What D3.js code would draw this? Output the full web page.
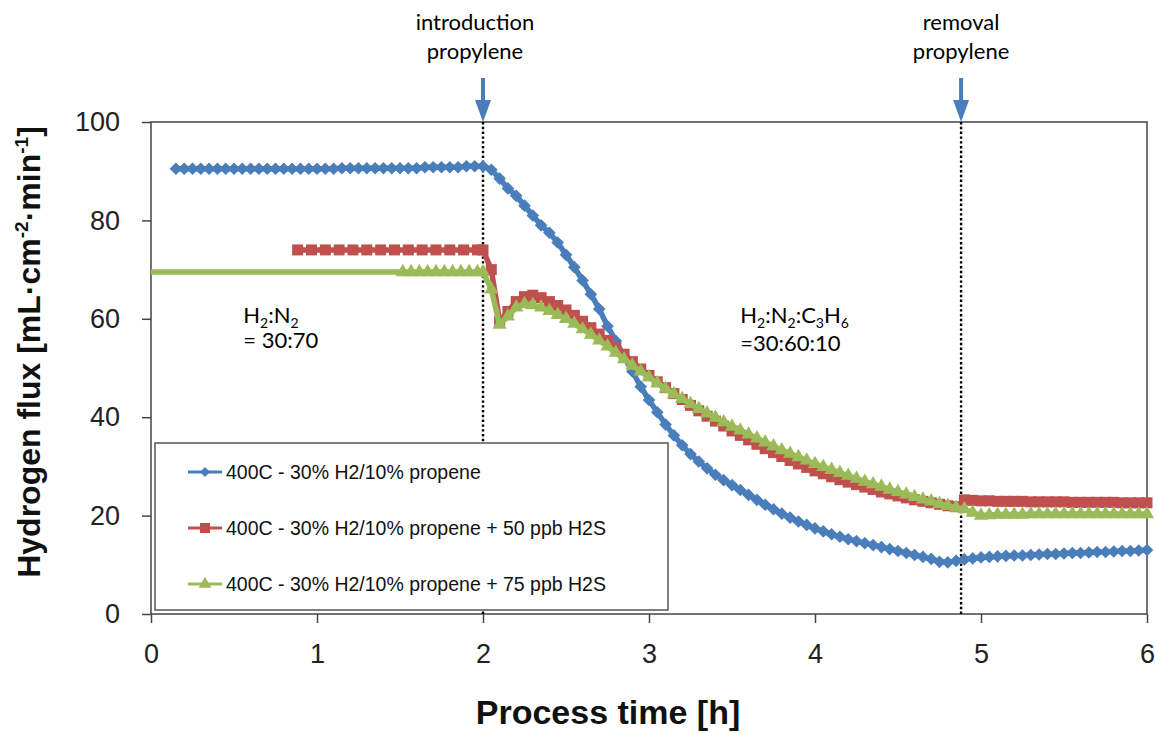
<!DOCTYPE html>
<html lang="en">
<head>
<meta charset="UTF-8">
<title>Hydrogen flux vs process time</title>
<script src="https://d3js.org/d3.v7.min.js"></script>
<style>
    body { margin: 0; background: #ffffff; }
    .tick text { font-family: 'Liberation Sans', Arial, sans-serif; font-size: 27px; fill: #222; }
    .axis-title { font-family: 'Liberation Sans', Arial, sans-serif; font-weight: bold; fill: #111; }
    .note { font-family: Lato, 'Open Sans', sans-serif; font-size: 22px; fill: #000; }
    .legend-text { font-family: 'Liberation Sans', Arial, sans-serif; font-size: 19.5px; fill: #111; }
</style>
</head>
<body>
<svg width="1156" height="733"></svg>
<script>
// ---- data (time in minutes, flux in mL/cm2/min) ----
const xTicks = [0, 1, 2, 3, 4, 5, 6];
const yTicks = [0, 20, 40, 60, 80, 100];

// sampling times of each run
const blueTime = d3.range(9, 361, 3);
const redTime = [...d3.range(53, 120, 5), ...d3.range(120, 361, 3)];
const greenTime = [0, ...d3.range(91, 120, 3), ...d3.range(120, 361, 3)];

const blueFlux = [
    90.5, 90.5, 90.5, 90.5, 90.5, 90.5, 90.5, 90.5, 90.5, 90.5,
    90.5, 90.5, 90.5, 90.5, 90.5, 90.5, 90.5, 90.5, 90.5, 90.5,
    90.6, 90.6, 90.6, 90.6, 90.6, 90.6, 90.6, 90.6, 90.6, 90.6,
    90.8, 90.8, 90.8, 90.8, 90.8, 91.0, 91.0, 91.0,
    90.3, 88.5, 86.5, 85.0, 83.0, 81.0, 79.0, 77.5, 75.5, 73.0,
    70.5, 67.8, 65.0, 62.0, 58.5, 55.5, 52.3, 49.3, 46.2, 43.5,
    41.0, 38.5, 36.3, 34.3, 32.5, 31.0, 29.6, 28.3, 27.2, 26.2,
    25.2, 24.2, 23.2, 22.2, 21.3, 20.4, 19.6, 18.8, 18.1, 17.4,
    16.8, 16.2, 15.7, 15.2, 14.8, 14.4, 14.0, 13.6, 13.2, 12.8,
    12.4, 12.0, 11.6, 11.2, 10.6, 10.5, 10.8, 11.1, 11.3, 11.5,
    11.6, 11.7, 11.8, 11.9, 11.9, 12.0, 12.1, 12.2, 12.2, 12.3,
    12.4, 12.4, 12.5, 12.6, 12.6, 12.7, 12.8, 12.8, 12.9, 13.0
];

const redFlux = [
    74.0, 74.0, 74.0, 74.0, 74.0, 74.0, 74.0, 74.0, 74.0, 74.0, 74.0, 74.0, 74.0, 74.0,
    74.0, 70.0, 59.5, 61.5, 63.5, 64.5, 64.8, 64.3, 63.5, 62.7,
    61.8, 60.7, 59.5, 58.2, 56.9, 55.6, 54.2, 52.8, 51.3, 49.8,
    48.5, 47.2, 46.0, 44.8, 43.6, 42.4, 41.3, 40.2, 39.2, 38.2,
    37.2, 36.3, 35.4, 34.5, 33.6, 32.8, 32.0, 31.2, 30.5, 29.8,
    29.1, 28.5, 27.9, 27.3, 26.8, 26.3, 25.8, 25.3, 24.8, 24.4,
    24.0, 23.6, 23.2, 22.9, 22.6, 22.3, 22.0, 21.8, 23.2, 23.1,
    23.0, 23.0, 22.9, 22.9, 22.9, 22.9, 22.8, 22.8, 22.8, 22.8,
    22.8, 22.7, 22.7, 22.7, 22.7, 22.7, 22.7, 22.6, 22.6, 22.6,
    22.6
];

const greenFlux = [
    69.5, 69.5, 69.5, 69.5, 69.5, 69.5, 69.5, 69.5, 69.5, 69.5, 69.5,
    69.5, 66.0, 58.8, 60.5, 62.3, 63.0, 62.8, 62.3, 61.6, 60.8,
    60.0, 59.0, 57.9, 56.8, 55.6, 54.4, 53.1, 51.8, 50.5, 49.3,
    48.1, 46.9, 45.8, 44.7, 43.7, 42.7, 41.7, 40.8, 39.9, 39.0,
    38.1, 37.3, 36.5, 35.7, 34.9, 34.1, 33.3, 32.6, 31.9, 31.2,
    30.5, 29.9, 29.3, 28.7, 28.1, 27.5, 26.9, 26.4, 25.9, 25.3,
    24.8, 24.3, 23.8, 23.3, 22.9, 22.4, 22.0, 21.6, 21.3, 20.6,
    20.0, 20.1, 20.2, 20.2, 20.2, 20.2, 20.3, 20.3, 20.3, 20.3,
    20.3, 20.3, 20.3, 20.3, 20.3, 20.3, 20.3, 20.3, 20.3, 20.3,
    20.3
];

const seriesNames = [
    "400C - 30% H2/10% propene",
    "400C - 30% H2/10% propene + 50 ppb H2S",
    "400C - 30% H2/10% propene + 75 ppb H2S"
];
const seriesColors = ["#4a7ebb", "#c0504d", "#9bbb59"];

// events (hours)
const eventTimes = [2.0, 4.88];
const eventLabels = [["introduction", "propylene"], ["removal", "propylene"]];

// ---- layout ----
const margin = { top: 122, right: 9, bottom: 119, left: 151 };
const width = 1156 - margin.left - margin.right;
const height = 733 - margin.top - margin.bottom;

const svg = d3.select("svg");
const g = svg.append("g").attr("transform", `translate(${margin.left},${margin.top})`);

const x = d3.scaleLinear().domain([0, 6]).range([0, width]);
const y = d3.scaleLinear().domain([0, 100]).range([height, 0]);

// Excel style diamond (a square turned 45 deg)
const diamond = {
    draw(ctx, size) {
        const r = Math.sqrt(size / 2);
        ctx.moveTo(0, -r); ctx.lineTo(r, 0); ctx.lineTo(0, r); ctx.lineTo(-r, 0); ctx.closePath();
    }
};
const symbols = [d3.symbol(diamond, 80), d3.symbol(d3.symbolSquare, 121), d3.symbol(d3.symbolTriangle, 88)];
const legendSymbols = [d3.symbol(diamond, 50), d3.symbol(d3.symbolSquare, 100), d3.symbol(d3.symbolTriangle, 70)];

const series = [
    { time: blueTime, flux: blueFlux },
    { time: redTime, flux: redFlux },
    { time: greenTime, flux: greenFlux }
].map((s, i) => ({
    name: seriesNames[i],
    color: seriesColors[i],
    symbol: symbols[i],
    legendSymbol: legendSymbols[i],
    points: s.time.map((t, j) => ({ h: t / 60, v: s.flux[j] }))
}));

// axes
const yAxis = g.append("g")
    .call(d3.axisLeft(y).tickValues(yTicks).tickSize(9).tickPadding(22));
const xAxis = g.append("g")
    .attr("transform", `translate(0,${height})`)
    .call(d3.axisBottom(x).tickValues(xTicks).tickFormat(d3.format("d")).tickSize(9).tickPadding(21));
[xAxis, yAxis].forEach(a => {
    a.select(".domain").remove();
    a.selectAll("line").attr("stroke", "#444").attr("stroke-width", 1.5);
});

// plot frame
g.append("rect")
    .attr("width", width).attr("height", height)
    .attr("fill", "none").attr("stroke", "#444").attr("stroke-width", 1.5);

// event dotted lines
g.selectAll(".event")
    .data(eventTimes)
    .enter().append("line")
    .attr("x1", d => x(d)).attr("x2", d => x(d))
    .attr("y1", 0).attr("y2", height)
    .attr("stroke", "#000").attr("stroke-width", 2.4)
    .attr("stroke-dasharray", "2.4,2.4");

// series lines + markers
const line = d3.line().x(d => x(d.h)).y(d => y(d.v));
series.forEach(s => {
    g.append("path")
        .datum(s.points)
        .attr("fill", "none")
        .attr("stroke", s.color)
        .attr("stroke-width", 5.5)
        .attr("stroke-linejoin", "round")
        .attr("d", line);

    g.append("g").selectAll("path")
        .data(s.points.filter(d => d.h > 0)) // no marker on the axis point
        .enter().append("path")
        .attr("transform", d => `translate(${x(d.h)},${y(d.v)})`)
        .attr("d", s.symbol)
        .attr("fill", s.color);
});

// arrows + labels above the plot
eventTimes.forEach((t, i) => {
    const ax = x(t);
    const lx = ax - (i === 0 ? 8 : 0);
    g.append("rect")
        .attr("x", ax - 2).attr("y", -44).attr("width", 4).attr("height", 26)
        .attr("fill", seriesColors[0]);
    g.append("path")
        .attr("d", `M${ax - 8},${-22} L${ax + 8},${-22} L${ax},0 Z`)
        .attr("fill", seriesColors[0]);
    const lbl = g.append("text")
        .attr("class", "note")
        .attr("text-anchor", "middle")
        .attr("y", -92);
    eventLabels[i].forEach((s, k) => {
        lbl.append("tspan").attr("x", lx).attr("dy", k === 0 ? 0 : 29).text(s);
    });
});

// gas composition notes with subscripts
function chem(textSel, parts) {
    let shift = 0;
    parts.forEach(p => {
        const down = p.sub ? 5 : 0;
        textSel.append("tspan")
            .attr("dy", down - shift)
            .attr("font-size", p.sub ? "14px" : null)
            .text(p.sub || p.t);
        shift = down;
    });
}
const n1 = g.append("text").attr("class", "note").attr("x", x(0.556)).attr("y", 201);
chem(n1, [{ t: "H" }, { sub: "2" }, { t: ":N" }, { sub: "2" }]);
g.append("text").attr("class", "note").attr("x", x(0.556)).attr("y", 226).text("= 30:70");

const n2 = g.append("text").attr("class", "note").attr("x", x(3.55)).attr("y", 201);
chem(n2, [{ t: "H" }, { sub: "2" }, { t: ":N" }, { sub: "2" }, { t: ":C" }, { sub: "3" }, { t: "H" }, { sub: "6" }]);
g.append("text").attr("class", "note").attr("x", x(3.55)).attr("y", 229).text("=30:60:10");

// legend
const legend = g.append("g").attr("transform", `translate(${155 - margin.left},${443 - margin.top})`);
legend.append("rect")
    .attr("width", 513).attr("height", 167)
    .attr("fill", "#fff").attr("stroke", "#555").attr("stroke-width", 1.5);
series.forEach((s, i) => {
    const row = legend.append("g").attr("transform", `translate(0,${29 + i * 56})`);
    row.append("line")
        .attr("x1", 33).attr("x2", 67)
        .attr("stroke", s.color).attr("stroke-width", 3);
    row.append("path")
        .attr("transform", "translate(50,0)")
        .attr("d", s.legendSymbol)
        .attr("fill", s.color);
    row.append("text")
        .attr("class", "legend-text")
        .attr("x", 71).attr("dy", "0.35em")
        .text(s.name);
});

// axis titles
svg.append("text")
    .attr("class", "axis-title")
    .attr("font-size", 34)
    .attr("text-anchor", "middle")
    .attr("x", 608).attr("y", 724)
    .text("Process time [h]");

const yt = svg.append("text")
    .attr("class", "axis-title")
    .attr("font-size", 32)
    .attr("text-anchor", "middle")
    .attr("transform", "translate(40,352) rotate(-90)");
yt.append("tspan").text("Hydrogen flux [mL·cm");
yt.append("tspan").attr("font-size", 19).attr("dy", -12).text("-2");
yt.append("tspan").attr("dy", 12).text("·min");
yt.append("tspan").attr("font-size", 19).attr("dy", -12).text("-1");
yt.append("tspan").attr("dy", 12).text("]");
</script>
</body>
</html>
